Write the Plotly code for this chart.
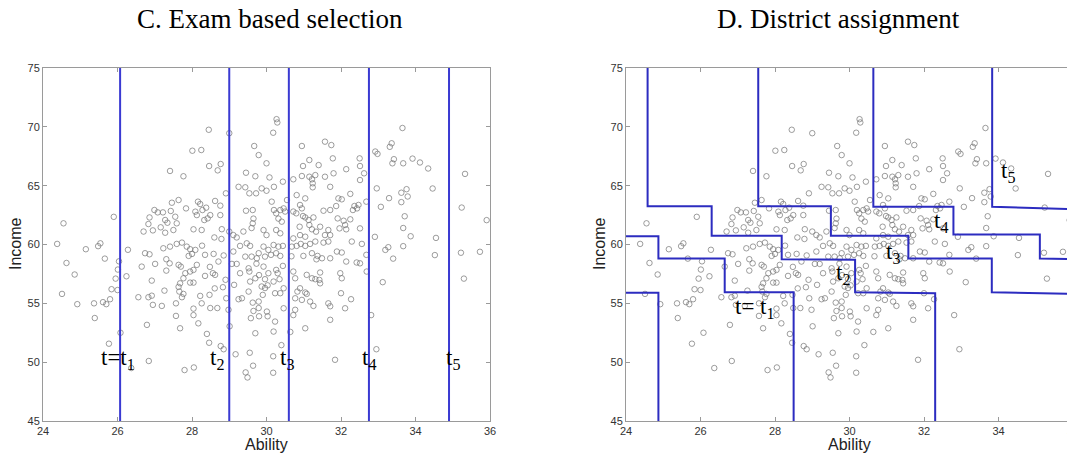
import plotly.graph_objects as go

# ---------------- data ----------------
# scatter sample: (ability, income)
outer_pts = [
    (24.55,61.8),(25.9,62.35),
    (28.45,69.75),(29.0,69.46),(30.27,70.65),(30.29,70.37),(30.18,69.5),
    (33.31,68.3),(33.36,68.6),(33.65,69.9),(33.42,67.25),(33.38,66.9),(33.67,66.9),(33.92,67.3),
    (34.12,66.97),(34.34,66.46),(34.46,64.76),(33.62,64.4),(33.76,64.7),(33.79,64.08),(33.62,63.6),
    (33.71,62.4),(33.67,61.4),(35.33,66.0),(35.24,63.14),(35.91,62.07),(33.87,60.7),(34.55,60.56),
    (33.29,63.94),(32.91,60.65),
    (24.38,60.05),(24.63,58.43),(24.85,57.45),(24.51,55.8),(24.92,54.93),(25.37,55.0),(25.39,53.75),
    (25.15,59.6),(25.48,59.86),(25.54,60.1),(25.66,58.8),(25.61,55.1),(25.7,54.93),(25.8,55.35),
    (25.84,56.2),(25.77,51.57),(26.0,56.13),(25.95,57.1),(26.01,57.87),(26.04,58.57),(26.08,52.5),
    (26.24,57.3),(26.28,59.55),(26.37,49.5),
    (26.84,50.1),(27.8,49.33),(28.05,49.55),(28.46,51.65),(28.85,51.1),(28.77,51.37),(29.17,50.67),
    (29.44,49.13),(29.49,48.7),(29.55,50.8),(29.64,49.7),(30.4,51.45),(30.18,50.5),(30.18,49.1),
    (31.84,50.2),(32.95,51.1),
    (33.4,58.8),(33.67,59.86),(34.52,59.1),(35.22,59.3),(35.3,57.1),(35.73,59.38),
]
upper_left_pts = [
    (28.01,67.97),(28.25,68.03),(27.41,66.25),(27.77,65.8),(28.46,66.67),(28.77,66.84),(28.69,66.3),
    (28.91,64.35),(27.46,63.55),(27.64,63.78),(26.99,62.93),(27.08,62.73),(27.22,62.73),(26.86,62.3),
    (27.43,62.85),(27.28,62.08),(27.34,61.85),(27.84,63.07),(28.16,63.64),(28.22,63.44),(28.09,62.79),
    (28.13,62.5),(28.28,62.93),(28.38,63.13),(28.49,62.5),(28.42,62.22),(28.33,62.08),(28.62,63.7),
    (28.76,63.3),(28.76,62.5),(27.55,62.36),(27.59,61.8),(26.83,61.74),(26.7,61.1),(26.95,61.2),
    (27.16,61.46),(27.28,61.0),(27.5,61.23),(28.04,61.29),(28.26,61.23),(28.8,61.3),(29.0,61.1),
    (29.11,60.8),(29.2,60.6),(29.38,61.1),(29.6,61.4),(29.25,64.9),(29.43,64.86),(29.45,66.1),
    (29.7,65.8),(29.54,64.35),(29.72,64.35),(29.45,62.87),(29.63,62.93),(29.65,62.2),(29.67,68.37),
    (29.79,67.6),(29.63,61.8),(28.6,60.6),(28.79,60.47),
]
upper_right_pts = [
    (30.95,68.37),(31.57,68.74),(31.74,68.45),(30.0,66.9),(30.08,65.7),(29.87,64.77),(30.0,64.57),
    (30.2,64.9),(30.44,65.34),(30.14,63.64),(30.2,62.93),(30.26,62.65),(30.37,62.93),(30.46,63.07),
    (30.5,62.8),(30.32,62.2),(30.41,61.94),(30.55,63.78),(30.72,65.54),(30.98,66.67),(31.15,67.18),
    (31.4,66.75),(30.95,65.82),(31.15,65.76),(31.22,65.54),(31.31,65.9),(31.24,65.2),(31.24,64.86),
    (31.57,65.76),(31.78,67.32),(31.8,66.05),(32.14,66.4),(31.71,64.9),(31.93,63.92),(32.02,63.84),
    (32.25,64.3),(32.5,67.32),(32.51,66.67),(32.62,66.05),(32.51,65.48),(32.68,63.64),(30.81,64.2),
    (31.04,63.92),(30.9,63.36),(30.95,63.07),(30.72,62.8),(30.8,62.65),(30.98,62.42),(31.04,62.3),
    (31.13,62.08),(31.26,62.3),(31.15,61.66),(31.53,62.87),(31.71,62.93),(31.87,63.27),(32.36,63.27),
    (32.43,63.07),(32.47,63.36),(32.32,62.93),(31.91,62.22),(32.07,62.02),(32.11,61.66),(31.96,61.37),
    (32.14,61.29),(32.25,62.14),(32.51,61.37),(31.44,61.51),(31.66,61.23),(31.57,60.8),(31.71,60.8),
    (31.22,61.29),(31.33,61.09),(30.89,61.51),(30.9,60.8),(31.04,60.66),(30.72,60.52),(29.92,61.23),
    (30.0,60.8),(30.26,61.23),(30.37,60.95),(32.96,64.77),(32.92,67.9),(32.98,67.7),(33.07,63.2),
]
lower_left_pts = [
    (26.74,59.26),(26.86,59.17),(27.23,59.68),(27.41,59.82),(27.59,60.05),(27.73,60.16),(27.86,59.82),
    (27.95,59.6),(26.65,58.12),(27.01,58.35),(27.31,58.75),(27.4,58.4),(27.31,57.78),(27.64,58.27),
    (27.7,58.12),(27.91,59.03),(28.0,59.2),(28.09,59.54),(27.82,57.56),(27.95,57.7),(28.04,57.84),
    (28.13,58.27),(27.77,57.13),(27.95,56.76),(28.04,56.76),(27.68,56.7),(28.35,59.12),(28.58,59.2),
    (28.71,58.55),(28.56,57.56),(28.62,57.42),(28.35,57.33),(26.92,56.93),(27.26,56.08),(27.66,56.0),
    (27.77,55.8),(26.56,55.52),(26.83,55.52),(26.92,55.65),(26.95,54.87),(27.19,54.78),(27.57,55.0),
    (27.73,55.52),(28.22,55.63),(28.47,55.72),(28.26,55.0),(28.04,54.55),(28.49,54.6),(28.68,54.6),
    (27.57,53.93),(28.04,54.0),(26.79,53.17),(27.68,52.88),(28.17,53.3),(28.4,52.4),(28.83,56.37),
    (28.9,57.0),(29.11,59.4),(29.29,59.88),(29.47,60.1),(29.56,59.88),(29.43,58.97),(29.6,58.97),
    (29.74,58.83),(29.79,59.26),(29.07,58.35),(29.2,58.35),(29.52,57.98),(29.54,57.7),(29.29,57.56),
    (29.13,56.57),(29.56,56.85),(29.7,57.13),(29.52,56.0),(29.25,55.35),(29.34,55.43),(29.63,55.06),
    (29.79,55.15),(29.79,54.6),(29.65,54.35),(29.58,53.74),(28.98,54.45),(29.8,53.9),(29.7,52.46),
    (28.27,59.9),(27.64,56.4),(28.48,58.1),(28.61,56.27),(28.85,59.07),(28.92,55.43),(29.01,53.05),
    (29.73,58.37),(29.8,57.4),
]
lower_right_pts = [
    (29.92,59.82),(30.05,59.54),(30.19,59.96),(30.32,59.82),(30.44,59.88),(29.96,58.97),(30.12,59.12),
    (30.26,59.26),(30.37,59.03),(30.44,58.18),(29.92,58.12),(30.05,57.56),(30.26,57.84),(30.3,57.56),
    (29.96,57.05),(30.19,56.85),(30.35,57.05),(29.87,56.43),(29.96,56.3),(30.03,56.53),(30.23,55.86),
    (30.37,55.86),(30.46,56.28),(29.9,55.72),(30.01,54.3),(30.03,53.9),(30.23,53.45),(30.46,54.58),
    (30.19,52.6),(30.68,59.82),(30.81,59.88),(30.92,60.05),(31.04,59.88),(31.17,60.05),(31.31,60.25),
    (31.53,60.16),(31.66,60.25),(30.99,59.03),(31.22,59.26),(31.37,59.03),(31.49,58.83),(31.71,58.83),
    (30.72,57.7),(30.77,57.13),(31.08,57.42),(31.22,57.13),(31.31,57.05),(31.42,56.99),(31.44,57.62),
    (31.44,56.7),(30.9,56.28),(30.83,56.0),(31.04,55.92),(31.08,55.8),(30.77,55.43),(30.95,55.29),
    (31.17,55.15),(31.26,54.78),(30.77,54.45),(30.72,54.0),(31.04,52.88),(31.66,55.0),(31.71,54.75),
    (31.98,57.56),(32.02,57.13),(31.89,59.4),(32.02,59.32),(32.29,60.25),(32.56,60.05),(32.14,58.55),
    (32.42,58.47),(32.51,58.4),(32.68,59.12),(32.69,57.7),(32.0,55.86),(32.27,55.35),(32.11,54.58),
    (31.71,53.6),(32.81,54.0),(33.12,56.8),(33.19,59.54),(33.27,59.77),(30.67,59.0),(30.64,52.57),
    (31.34,58.74),
]
all_pts = outer_pts + upper_left_pts + upper_right_pts + lower_left_pts + lower_right_pts
ability = [p[0] for p in all_pts]
income = [p[1] for p in all_pts]

# panel C: exam cut-offs
exam_cutoffs = [26.07, 29.0, 30.6, 32.75, 34.9]
exam_labels = ["t=t<sub>1</sub>", "t<sub>2</sub>", "t<sub>3</sub>", "t<sub>4</sub>", "t<sub>5</sub>"]
exam_label_x = [26.0, 28.67, 30.55, 32.75, 35.0]
exam_label_y = 50.3

# panel D: district boundaries (staircase polylines)
district_x = [
    [24, 24.87, 24.87],
    [24, 24.87, 24.87, 26.65, 26.65, 28.5, 28.5],
    [24.58, 24.58, 26.3, 26.3, 28.18, 28.18, 30.15, 30.15, 32.3, 32.3],
    [27.55, 27.55, 29.5, 29.5, 31.58, 31.58, 33.82, 33.82, 36],
    [30.64, 30.64, 32.79, 32.79, 35.11, 35.11, 36],
    [33.83, 33.83, 36],
]
district_y = [
    [55.9, 55.9, 45],
    [60.7, 60.7, 58.8, 58.8, 55.95, 55.95, 45],
    [75, 63.25, 63.25, 60.75, 60.75, 58.75, 58.7, 55.95, 55.85, 45],
    [75, 63.25, 63.25, 60.75, 60.75, 58.8, 58.8, 55.95, 55.8],
    [75, 63.2, 63.2, 60.85, 60.85, 58.8, 58.75],
    [75, 63.2, 63.0],
]
district_labels = ["t= t<sub>1</sub>", "t<sub>2</sub>", "t<sub>3</sub>", "t<sub>4</sub>", "t<sub>5</sub>"]
district_label_x = [27.46, 29.83, 31.18, 32.46, 34.25]
district_label_y = [54.63, 57.47, 59.31, 61.92, 66.17]

x_ticks = [24, 26, 28, 30, 32, 34, 36]
y_ticks = [45, 50, 55, 60, 65, 70, 75]

# ---------------- figure ----------------
W, H = 1075, 455
OFF = 8  # page body margin in the browser
pt_marker = dict(symbol="circle-open", size=5.5, color="rgba(115,115,115,0.7)", line=dict(width=1))
line_col = "#3a3ad2"

fig = go.Figure()
for xa, ya in (("x", "y"), ("x2", "y2")):
    fig.add_trace(go.Scatter(x=ability, y=income, mode="markers", marker=pt_marker,
                             xaxis=xa, yaxis=ya, showlegend=False, hoverinfo="skip"))

for t in exam_cutoffs:
    fig.add_trace(go.Scatter(x=[t, t], y=[45, 75], mode="lines",
                             line=dict(color=line_col, width=2), xaxis="x", yaxis="y",
                             showlegend=False))
for xs, ys in zip(district_x, district_y):
    fig.add_trace(go.Scatter(x=xs, y=ys, mode="lines",
                             line=dict(color="#2c2cc0", width=2), xaxis="x2", yaxis="y2",
                             showlegend=False))

serif = "Liberation Serif, Times New Roman, serif"
sans = "Liberation Sans, Arial, sans-serif"
ann = []
for txt, lx in zip(exam_labels, exam_label_x):
    ann.append(dict(x=lx, y=exam_label_y, xref="x", yref="y", text=txt, showarrow=False,
                    xanchor="center", yanchor="middle",
                    font=dict(family=serif, size=23, color="black")))
for txt, lx, ly in zip(district_labels, district_label_x, district_label_y):
    ann.append(dict(x=lx, y=ly, xref="x2", yref="y2", text=txt, showarrow=False,
                    xanchor="center", yanchor="middle",
                    font=dict(family=serif, size=23, color="black")))

def px_x(p):
    return (p - OFF) / W

def px_y(p):
    return 1 - (p - OFF) / H

def paper_text(px, py, text, font, angle=0):
    return dict(x=px_x(px), y=px_y(py), xref="paper", yref="paper", text=text,
                showarrow=False, xanchor="center", yanchor="middle", textangle=angle,
                font=font)

title_font = dict(family=serif, size=27, color="black")
label_font = dict(family=sans, size=16, color="#222")
ann += [
    paper_text(270, 19, "C. Exam based selection", title_font),
    paper_text(838, 19, "D. District assignment", title_font),
    paper_text(266, 444, "Ability", label_font),
    paper_text(849, 444, "Ability", label_font),
    paper_text(15, 244, "Income", label_font, -90),
    paper_text(599, 244, "Income", label_font, -90),
]

axis_common = dict(showgrid=False, zeroline=False, showline=True, mirror="ticks",
                   linecolor="#9a9a9a", linewidth=1, ticks="inside", ticklen=4,
                   tickcolor="#9a9a9a", automargin=False,
                   tickfont=dict(family=sans, size=11, color="#333"))

fig.update_layout(
    width=W, height=H, margin=dict(l=0, r=0, t=0, b=0, pad=0, autoexpand=False),
    paper_bgcolor="white", plot_bgcolor="white", showlegend=False,
    xaxis=dict(domain=[px_x(43), px_x(490)], range=[24, 36], tickvals=x_ticks, anchor="y",
               **axis_common),
    yaxis=dict(domain=[px_y(421), px_y(68)], range=[45, 75], tickvals=y_ticks, anchor="x",
               **axis_common),
    xaxis2=dict(domain=[px_x(626), px_x(1073)], range=[24, 36], tickvals=x_ticks, anchor="y2",
                **axis_common),
    yaxis2=dict(domain=[px_y(421), px_y(68)], range=[45, 75], tickvals=y_ticks, anchor="x2",
                **axis_common),
    annotations=ann,
)

fig.write_html("out.html")
